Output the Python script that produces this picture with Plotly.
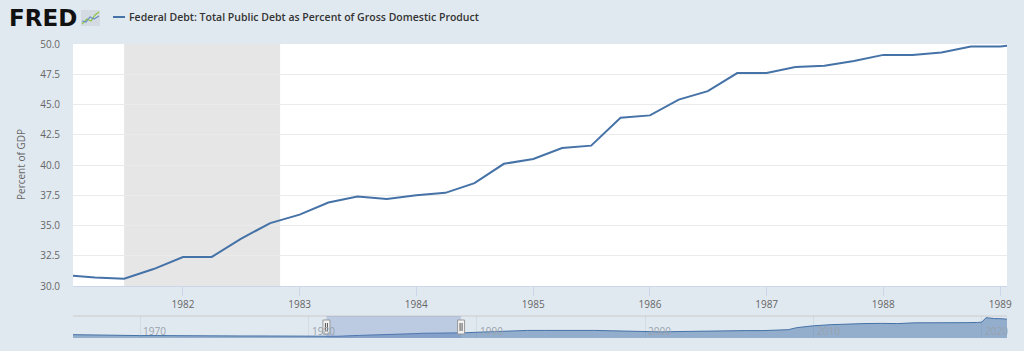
import plotly.graph_objects as go

# ---------------- data ----------------
series_name = "Federal Debt: Total Public Debt as Percent of Gross Domestic Product"
y_title = "Percent of GDP"

quarters = [
    "1981-01-01", "1981-04-01", "1981-07-01", "1981-10-01",
    "1982-01-01", "1982-04-01", "1982-07-01", "1982-10-01",
    "1983-01-01", "1983-04-01", "1983-07-01", "1983-10-01",
    "1984-01-01", "1984-04-01", "1984-07-01", "1984-10-01",
    "1985-01-01", "1985-04-01", "1985-07-01", "1985-10-01",
    "1986-01-01", "1986-04-01", "1986-07-01", "1986-10-01",
    "1987-01-01", "1987-04-01", "1987-07-01", "1987-10-01",
    "1988-01-01", "1988-04-01", "1988-07-01", "1988-10-01",
    "1989-01-01", "1989-04-01",
]
debt_pct = [
    30.9, 30.7, 30.6, 31.4,
    32.4, 32.4, 33.9, 35.2,
    35.9, 36.9, 37.4, 37.2,
    37.5, 37.7, 38.5, 40.1,
    40.5, 41.4, 41.6, 43.9,
    44.1, 45.4, 46.1, 47.6,
    47.6, 48.1, 48.2, 48.6,
    49.1, 49.1, 49.3, 49.8,
    49.8, 50.0,
]

# navigator (full history) outside the main window, approximate values
nav_before_dates = ["1966-01-01", "1967-01-01", "1968-01-01", "1969-01-01", "1970-01-01",
                    "1971-01-01", "1972-01-01", "1973-01-01", "1974-01-01", "1975-01-01",
                    "1976-01-01", "1977-01-01", "1978-01-01", "1979-01-01", "1980-01-01",
                    "1980-10-01"]
nav_before_vals = [40, 38, 37, 35, 35, 35, 34, 33, 31, 32, 33, 33, 32, 31, 31, 31]
nav_after_dates = ["1990-01-01", "1991-01-01", "1992-01-01", "1993-01-01", "1994-01-01",
                   "1995-01-01", "1996-01-01", "1997-01-01", "1998-01-01", "1999-01-01",
                   "2000-01-01", "2001-01-01", "2002-01-01", "2003-01-01", "2004-01-01",
                   "2005-01-01", "2006-01-01", "2007-01-01", "2008-01-01", "2008-07-01",
                   "2009-01-01", "2009-07-01", "2010-01-01", "2011-01-01", "2012-01-01",
                   "2013-01-01", "2014-01-01", "2015-01-01", "2016-01-01", "2017-01-01",
                   "2018-01-01", "2019-01-01", "2019-10-01", "2020-01-01", "2020-04-01",
                   "2020-07-01", "2020-10-01", "2021-01-01", "2021-04-01", "2021-07-01"]
nav_after_vals = [53, 57, 60, 63, 63, 64, 64, 63, 61, 59,
                  56, 55, 57, 59, 61, 62, 62, 62, 63, 67,
                  78, 83, 88, 94, 98, 100, 101, 100, 104, 103,
                  104, 105, 106, 108, 132, 128, 127, 127, 126, 124]
nav_tick_dates = ["1970-01-01", "1980-01-01", "1990-01-01", "2000-01-01", "2010-01-01",
                  "2020-01-01"]
nav_tick_labels = ["1970", "1980", "1990", "2000", "2010", "2020"]

recession_start = "1981-07-01"
recession_end = "1982-11-01"
view_start = "1981-01-22"
view_end = "1989-01-22"
nav_start = "1966-01-01"
nav_end = "2021-07-01"

# ---------------- styling ----------------
W, H = 1024, 351
ML, MR, MT, MB = 73, 17, 44, 13
PW = W - ML - MR
PH = H - MT - MB
BG = "#e1e9f0"
LINE = "#4572a7"
FONT = "Open Sans"


def px(xp):
    return (xp - ML) / PW


def py(yp):
    return (H - MB - yp) / PH


main_bottom = py(286)
nav_top = py(316)

fig = go.Figure()

fig.add_trace(go.Scatter(
    x=quarters, y=debt_pct, mode="lines",
    line=dict(color=LINE, width=2), name=series_name,
    xaxis="x", yaxis="y", showlegend=False, hoverinfo="x+y",
))

nav_x = nav_before_dates + quarters + nav_after_dates
nav_y = nav_before_vals + debt_pct + nav_after_vals
fig.add_trace(go.Scatter(
    x=nav_x, y=nav_y, mode="lines", fill="tozeroy",
    line=dict(color=LINE, width=1), fillcolor="rgba(69,114,167,0.5)",
    xaxis="x2", yaxis="y2", showlegend=False, hoverinfo="skip",
))

shapes = [
    # white main plot background
    dict(type="rect", xref="paper", yref="paper", x0=0, x1=1, y0=main_bottom, y1=1,
         fillcolor="white", line=dict(width=0), layer="below"),
    # recession band
    dict(type="rect", xref="x", yref="y domain", x0=recession_start, x1=recession_end,
         y0=0, y1=1, fillcolor="#e6e6e6", line=dict(width=0), layer="below"),
    # navigator top border
    dict(type="line", xref="paper", yref="paper", x0=0, x1=1, y0=nav_top, y1=nav_top,
         line=dict(color="#cccccc", width=1)),
    # navigator selection
    dict(type="rect", xref="x2", yref="y2 domain", x0=view_start, x1=view_end, y0=0, y1=1,
         fillcolor="rgba(102,133,194,0.3)", line=dict(width=0), layer="above"),
    # legend line
    dict(type="line", xref="paper", yref="paper", x0=px(113), x1=px(125), y0=py(17), y1=py(17),
         line=dict(color=LINE, width=2)),
    # FRED icon
    dict(type="rect", xref="paper", yref="paper", x0=px(81), x1=px(100), y0=py(26), y1=py(10),
         fillcolor="#d4dbe2", line=dict(width=0)),
    dict(type="path", xref="paper", yref="paper",
         path="M {} {} L {} {} L {} {} L {} {} L {} {}".format(
             px(82), py(24), px(87), py(19), px(91), py(21), px(95), py(15), px(99), py(12)),
         line=dict(color="#8cc63f", width=1.2)),
    dict(type="path", xref="paper", yref="paper",
         path="M {} {} L {} {} L {} {} L {} {} L {} {}".format(
             px(82), py(21), px(86), py(22), px(90), py(17), px(94), py(19), px(99), py(16)),
         line=dict(color="#6b8fc2", width=1.2)),
]
for d in (view_start, view_end):
    shapes.append(dict(type="rect", xref="x2", yref="paper", xsizemode="pixel", xanchor=d,
                       x0=-3.5, x1=3.5, y0=py(334), y1=py(320),
                       fillcolor="#f2f2f2", line=dict(color="#999999", width=1)))
    for off in (-1, 1):
        shapes.append(dict(type="line", xref="x2", yref="paper", xsizemode="pixel", xanchor=d,
                           x0=off, x1=off, y0=py(331), y1=py(323),
                           line=dict(color="#555555", width=1)))

annotations = [
    dict(text="<b>FRED</b>", xref="paper", yref="paper", x=px(7), y=py(18), xanchor="left",
         yanchor="middle", showarrow=False,
         font=dict(family="DejaVu Sans", size=23, color="#111111")),
    dict(text=series_name, xref="paper", yref="paper", x=px(127), y=py(17), xanchor="left",
         yanchor="middle", showarrow=False,
         font=dict(family=FONT, size=10.5, color="#333333", weight=600)),
    dict(text=y_title, xref="paper", yref="paper", x=px(21), y=(1 + main_bottom) / 2,
         xanchor="center", yanchor="middle", textangle=-90, showarrow=False,
         font=dict(family=FONT, size=10, color="#666666")),
]
for d, lab in zip(nav_tick_dates, nav_tick_labels):
    annotations.append(dict(text=lab, xref="x2", yref="paper", x=d, y=py(331),
                            xanchor="left", yanchor="middle", xshift=1, showarrow=False,
                            font=dict(family=FONT, size=10, color="#9aa3ad")))

fig.update_layout(
    width=W, height=H,
    margin=dict(l=ML, r=MR, t=MT, b=MB, pad=0, autoexpand=False),
    paper_bgcolor=BG, plot_bgcolor="rgba(0,0,0,0)",
    font=dict(family=FONT, size=10, color="#666666"),
    showlegend=False,
    shapes=shapes, annotations=annotations,
    xaxis=dict(
        domain=[0, 1], anchor="y", type="date", range=[view_start, view_end],
        tick0="1982-01-01", dtick="M12", tickformat="%Y",
        showgrid=False, showline=True, linecolor="#ccd6eb", linewidth=1,
        ticks="outside", ticklen=9, tickcolor="#ccd6eb", tickwidth=1,
        tickfont=dict(family=FONT, size=10, color="#666666"),
        zeroline=False, fixedrange=True, automargin=False,
    ),
    yaxis=dict(
        domain=[main_bottom, 1], anchor="x", range=[30, 50], dtick=2.5, tickformat=".1f",
        showgrid=True, gridcolor="#ebebeb", gridwidth=1, zeroline=False, showline=False,
        ticks="outside", ticklen=10, tickcolor="rgba(0,0,0,0)",
        tickfont=dict(family=FONT, size=10, color="#666666"), fixedrange=True,
        automargin=False,
    ),
    xaxis2=dict(
        domain=[0, 1], anchor="y2", type="date", range=[nav_start, nav_end],
        tick0="1970-01-01", dtick="M120", showticklabels=False,
        showgrid=True, gridcolor="#d3dbe3", gridwidth=1, showline=False, zeroline=False,
        ticks="", fixedrange=True, automargin=False,
    ),
    yaxis2=dict(
        domain=[0, nav_top], anchor="x2", range=[22, 141], visible=False, fixedrange=True,
        automargin=False,
    ),
)

fig.write_html("out.html", config={"displayModeBar": False})
